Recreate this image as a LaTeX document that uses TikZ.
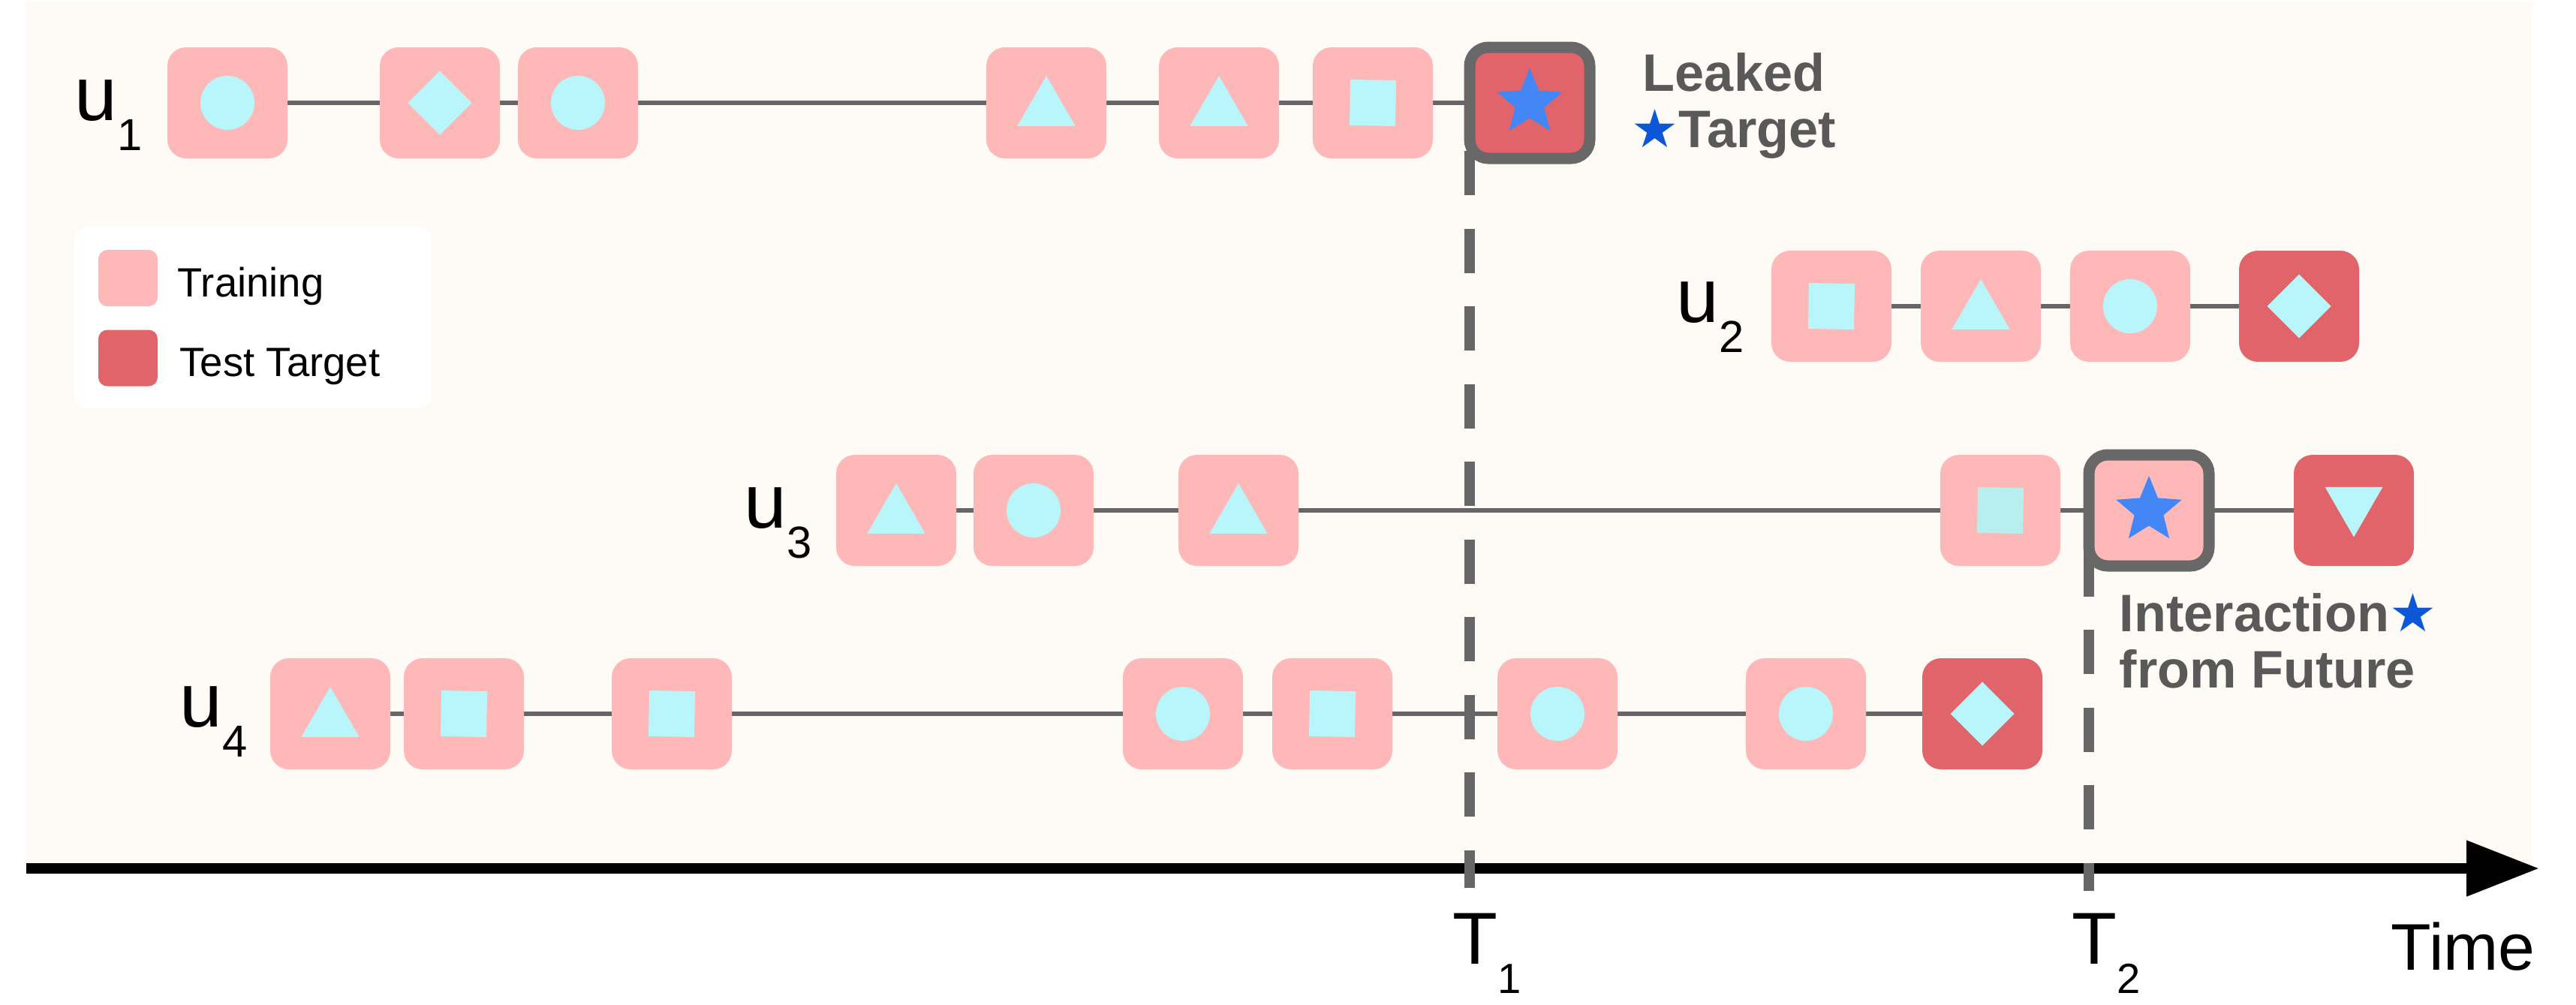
\documentclass[tikz,border=0pt]{standalone}
\usepackage{fontspec}
\setmainfont{Liberation Sans}
\newfontfamily\starfont{DejaVu Sans}
\usepackage{tikz}
\usetikzlibrary{arrows.meta,positioning,shapes.geometric,backgrounds}

\definecolor{cream}{HTML}{FEFAF5}
\definecolor{trainpink}{HTML}{FFB8B8}
\definecolor{testred}{HTML}{E1646B}
\definecolor{iconcyan}{HTML}{B8F6FC}
\definecolor{palecyan}{HTML}{B9EEEE}
\definecolor{linegrey}{HTML}{666666}
\definecolor{bordergrey}{HTML}{686868}
\definecolor{textgrey}{HTML}{595959}
\definecolor{starblue}{HTML}{4386F5}
\definecolor{darkblue}{HTML}{0B57D8}

\newcommand{\lowsub}[2]{\raisebox{-0.4em}{\fontsize{#1}{#1}\selectfont #2}}
\newcommand{\bluestar}{{\starfont\color{darkblue}★}}

\begin{document}
\begin{tikzpicture}[>={Triangle[length=0.97cm,width=0.71cm]}]
	\tikzstyle{itembox} = [rectangle, rounded corners=0.25cm, minimum width=1.6cm, minimum height=1.48cm, inner sep=0pt, outer sep=0pt]
	\tikzstyle{trainbox} = [itembox, fill=trainpink]
	\tikzstyle{testbox} = [itembox, fill=testred]
	\tikzstyle{leakbox} = [draw=bordergrey, line width=0.15cm]
	\tikzstyle{icon} = [fill=iconcyan, inner sep=0pt, outer sep=0pt]
	\tikzstyle{icirc} = [icon, circle, minimum size=0.72cm]
	\tikzstyle{idiam} = [icon, diamond, minimum width=0.85cm, minimum height=0.85cm]
	\tikzstyle{isq} = [icon, rectangle, minimum size=0.61cm, rotate=-1]
	\tikzstyle{itri} = [icon, regular polygon, regular polygon sides=3, minimum size=0.89cm, yshift=-0.085cm]
	\tikzstyle{idown} = [icon, regular polygon, regular polygon sides=3, shape border rotate=180, minimum size=0.89cm, yshift=0.09cm]
	\tikzstyle{istar} = [star, star points=5, star point ratio=2.25, minimum size=0.92cm, inner sep=0pt, fill=starblue]
	\tikzstyle{seqline} = [draw=linegrey, line width=0.06cm]
	\tikzstyle{tline} = [draw=linegrey, line width=0.14cm, dash pattern=on 0.59cm off 0.445cm]
	\tikzstyle{ulab} = [anchor=base west, inner sep=0pt, font=\fontsize{29}{30}\selectfont]
	\tikzstyle{tlab} = [anchor=base west, inner sep=0pt, font=\fontsize{27.9}{29}\selectfont]
	\tikzstyle{legtext} = [anchor=base west, inner sep=0pt, font=\fontsize{15.5}{18}\selectfont]
	\tikzstyle{notetext} = [inner sep=0pt, text=textgrey, font=\fontsize{20}{21.2}\selectfont\bfseries]

	\useasboundingbox (0,0) rectangle (34.32,-13.38);

	% legend
	\node [rectangle, fill=white, rounded corners=0.18cm, minimum width=4.76cm, minimum height=2.42cm, inner sep=0pt] (legend) at (3.37,-4.23) {};
	\node [itembox, fill=trainpink, minimum width=0.79cm, minimum height=0.75cm, rounded corners=0.12cm] (swtrain) at (1.705,-3.705) {};
	\node [itembox, fill=testred, minimum width=0.79cm, minimum height=0.75cm, rounded corners=0.12cm] (swtest) at (1.705,-4.77) {};
	\node [legtext] (ltrain) at (2.36,-3.95) {Training};
	\node [legtext] (ltest) at (2.39,-5.01) {Test Target};

	% user 1
	\node [ulab] (n1) at (0.99,-1.60) {u\lowsub{17}{1}};
	\node [trainbox] (u1a) at (3.03,-1.37) {};
	\node [trainbox, right = 1.23cm of u1a] (u1b) {};
	\node [trainbox, right = 0.24cm of u1b] (u1c) {};
	\node [trainbox, right = 4.64cm of u1c] (u1d) {};
	\node [trainbox, right = 0.70cm of u1d] (u1e) {};
	\node [trainbox, right = 0.45cm of u1e] (u1f) {};
	\node [testbox, leakbox, right = 0.49cm of u1f] (u1g) {};
	\node [icirc] (i1a) at (u1a) {};
	\node [idiam] (i1b) at (u1b) {};
	\node [icirc] (i1c) at (u1c) {};
	\node [itri] (i1d) at (u1d) {};
	\node [itri] (i1e) at (u1e) {};
	\node [isq] (i1f) at (u1f) {};
	\node [istar] (i1g) at (u1g) {};
	\node [notetext, align=center, anchor=north] (leaked) at (23.10,-0.70) {Leaked\\\bluestar Target};

	% user 2
	\node [ulab] (n2) at (22.33,-4.29) {u\lowsub{17}{2}};
	\node [trainbox] (u2a) at (24.40,-4.08) {};
	\node [trainbox, right = 0.39cm of u2a] (u2b) {};
	\node [trainbox, right = 0.39cm of u2b] (u2c) {};
	\node [testbox, right = 0.65cm of u2c] (u2d) {};
	\node [isq] (i2a) at (u2a) {};
	\node [itri] (i2b) at (u2b) {};
	\node [icirc] (i2c) at (u2c) {};
	\node [idiam] (i2d) at (u2d) {};

	% user 3
	\node [ulab] (n3) at (9.91,-7.03) {u\lowsub{17}{3}};
	\node [trainbox] (u3a) at (11.94,-6.80) {};
	\node [trainbox, right = 0.23cm of u3a] (u3b) {};
	\node [trainbox, right = 1.13cm of u3b] (u3c) {};
	\node [trainbox, right = 8.55cm of u3c] (u3d) {};
	\node [trainbox, leakbox, right = 0.38cm of u3d] (u3e) {};
	\node [testbox, right = 1.13cm of u3e] (u3f) {};
	\node [itri] (i3a) at (u3a) {};
	\node [icirc] (i3b) at (u3b) {};
	\node [itri] (i3c) at (u3c) {};
	\node [isq, fill=palecyan] (i3d) at (u3d) {};
	\node [istar] (i3e) at (u3e) {};
	\node [idown] (i3f) at (u3f) {};
	\node [notetext, align=left, anchor=north west] (future) at (28.23,-7.90) {Interaction\bluestar\\from Future};

	% user 4
	\node [ulab] (n4) at (2.39,-9.68) {u\lowsub{17}{4}};
	\node [trainbox] (u4a) at (4.40,-9.51) {};
	\node [trainbox, right = 0.18cm of u4a] (u4b) {};
	\node [trainbox, right = 1.17cm of u4b] (u4c) {};
	\node [trainbox, right = 5.21cm of u4c] (u4d) {};
	\node [trainbox, right = 0.39cm of u4d] (u4e) {};
	\node [trainbox, right = 1.40cm of u4e] (u4f) {};
	\node [trainbox, right = 1.71cm of u4f] (u4g) {};
	\node [testbox, right = 0.75cm of u4g] (u4h) {};
	\node [itri] (i4a) at (u4a) {};
	\node [isq] (i4b) at (u4b) {};
	\node [isq] (i4c) at (u4c) {};
	\node [icirc] (i4d) at (u4d) {};
	\node [isq] (i4e) at (u4e) {};
	\node [icirc] (i4f) at (u4f) {};
	\node [icirc] (i4g) at (u4g) {};
	\node [idiam] (i4h) at (u4h) {};

	% time axis and cut-off lines
	\node [coordinate] (tstart) at (0.35,-11.57) {};
	\node [coordinate] (tend) at (33.83,-11.57) {};
	\node [coordinate, below = 0.64cm of u1g.west] (t1top) {};
	\node [coordinate, below = 9.82cm of t1top] (t1bot) {};
	\node [coordinate, below = 0.555cm of u3e.west] (t2top) {};
	\node [coordinate, below = 4.51cm of t2top] (t2bot) {};
	\node [tlab] (t1lab) at (19.35,-12.84) {T\lowsub{16}{1}};
	\node [tlab] (t2lab) at (27.60,-12.84) {T\lowsub{16}{2}};
	\node [anchor=base west, inner sep=0pt, font=\fontsize{25}{26}\selectfont] (timelab) at (31.85,-12.92) {Time};

	\begin{scope}[on background layer]
		\fill [cream] (0.35,-0.02) rectangle (33.73,-11.52);
		\draw [->, line width=0.145cm] (tstart) -- (tend);
		\draw [seqline] (u1a.center) -- (u1g.center);
		\draw [seqline] (u2a.center) -- (u2d.center);
		\draw [seqline] (u3a.center) -- (u3f.center);
		\draw [seqline] (u4a.center) -- (u4h.center);
		\draw [tline] (t1top) -- (t1bot);
		\draw [tline] (t2top) -- (t2bot);
	\end{scope}
\end{tikzpicture}
\end{document}
